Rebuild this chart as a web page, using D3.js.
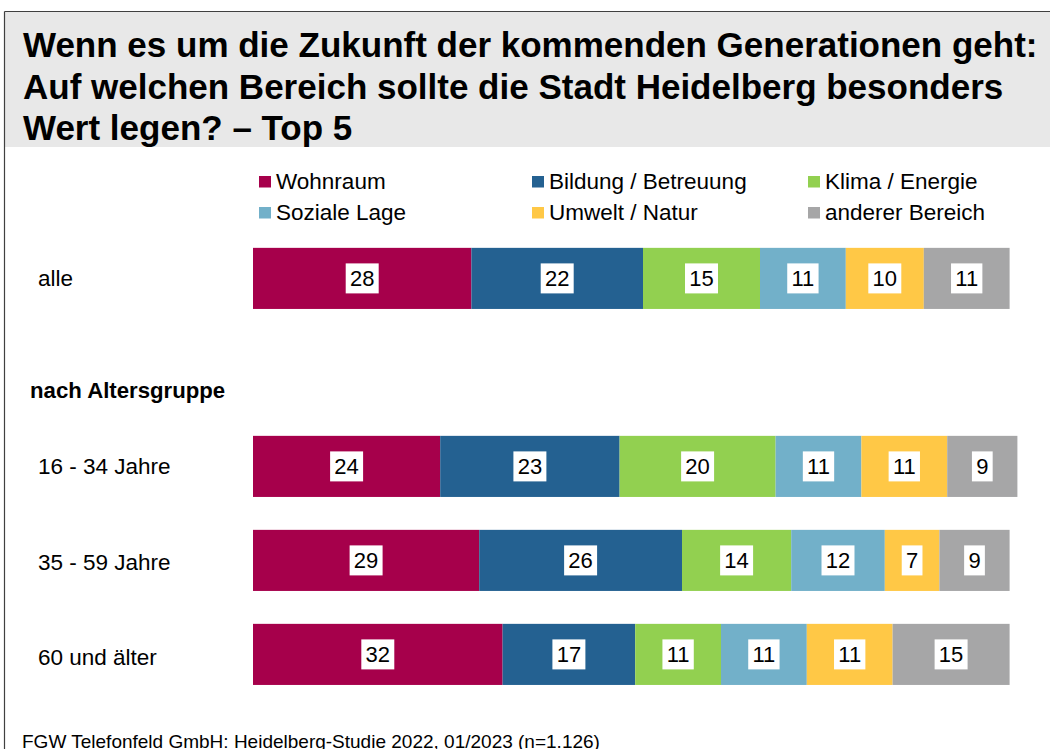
<!DOCTYPE html>
<html>
<head>
<meta charset="utf-8">
<script src="https://cdn.jsdelivr.net/npm/d3@7"></script>
<style>
  html, body { margin: 0; padding: 0; background: #fff; }
  svg { display: block; }
  text { font-family: "Liberation Sans", Arial, sans-serif; }
</style>
</head>
<body>
<svg id="chart" width="1050" height="749"></svg>
<script>
// ---- Data ----
const titleLines = [
  "Wenn es um die Zukunft der kommenden Generationen geht:",
  "Auf welchen Bereich sollte die Stadt Heidelberg besonders",
  "Wert legen? \u2013 Top 5"
];
const rows = ["alle", "", "16 - 34 Jahre", "35 - 59 Jahre", "60 und älter"];
const categories = ["alle", "16 - 34 Jahre", "35 - 59 Jahre", "60 und älter"];
const seriesNames = ["Wohnraum", "Bildung / Betreuung", "Klima / Energie", "Soziale Lage", "Umwelt / Natur", "anderer Bereich"];
const wohnraum = [28, 24, 29, 32];
const bildung  = [22, 23, 26, 17];
const klima    = [15, 20, 14, 11];
const soziale  = [11, 11, 12, 11];
const umwelt   = [10, 11, 7, 11];
const anderer  = [11, 9, 9, 15];
const colors = ["#A6004B", "#246191", "#92D050", "#72B0C9", "#FFC846", "#A6A6A7"];
const groupHeading = "nach Altersgruppe";
const footer = "FGW Telefonfeld GmbH: Heidelberg-Studie 2022, 01/2023 (n=1.126)";

// ---- Build table ----
const seriesValues = [wohnraum, bildung, klima, soziale, umwelt, anderer];
const table = categories.map((c, i) => {
  const o = { cat: c };
  seriesNames.forEach((s, j) => { o[s] = seriesValues[j][i]; });
  return o;
});
const stacked = d3.stack().keys(seriesNames)(table);

const svg = d3.select("#chart");

// ---- Frame & title ----
svg.append("rect").attr("x", 5).attr("y", 12).attr("width", 1045).attr("height", 135).attr("fill", "#E8E8E8");
svg.append("line").attr("x1", 4.5).attr("x2", 1050).attr("y1", 11.5).attr("y2", 11.5).attr("stroke", "#404040").attr("stroke-width", 1.2);
svg.append("line").attr("x1", 4.5).attr("x2", 4.5).attr("y1", 11.5).attr("y2", 749).attr("stroke", "#404040").attr("stroke-width", 1.2);

svg.append("g").selectAll("text").data(titleLines).join("text")
  .attr("x", 23).attr("y", (d, i) => 57 + i * 41.5)
  .attr("font-size", 35).attr("font-weight", "bold").attr("fill", "#000")
  .text(d => d);

// ---- Scales ----
const x = d3.scaleLinear().domain([0, 100]).range([253, 1033]);
const y = d3.scaleBand().domain(rows).range([231.4, 701.4]).paddingInner(0.35).paddingOuter(0.175);
const color = d3.scaleOrdinal().domain(seriesNames).range(colors);

// ---- Legend ----
const legendCols = [259, 532, 808];
const legendRows = [176, 207];
const legend = svg.append("g").selectAll("g").data(seriesNames).join("g")
  .attr("transform", (d, i) => `translate(${legendCols[i % 3]},${legendRows[Math.floor(i / 3)]})`);
legend.append("rect").attr("width", 12).attr("height", 11.5).attr("fill", d => color(d));
legend.append("text").attr("x", 17).attr("y", 12.5).attr("font-size", 22.5).attr("fill", "#000").text(d => d);

// ---- Row labels ----
svg.append("g").selectAll("text").data(categories).join("text")
  .attr("x", 38).attr("y", (d, i) => y(d) + y.bandwidth() / 2 + 8 + (i > 1 ? (i - 1) * 1.2 : 0))
  .attr("font-size", 22.5).attr("fill", "#000").text(d => d);

svg.append("text").attr("x", 30).attr("y", 397.5).attr("font-size", 22.2).attr("font-weight", "bold")
  .attr("fill", "#000").text(groupHeading);

// ---- Bars ----
const layers = svg.append("g").selectAll("g").data(stacked).join("g")
  .attr("fill", d => color(d.key));
layers.selectAll("rect").data(d => d).join("rect")
  .attr("x", d => x(d[0])).attr("width", d => x(d[1]) - x(d[0]))
  .attr("y", d => y(d.data.cat)).attr("height", y.bandwidth());

// ---- Value labels ----
const labels = [];
stacked.forEach(layer => layer.forEach(d => {
  labels.push({ cx: (x(d[0]) + x(d[1])) / 2, cy: y(d.data.cat) + y.bandwidth() / 2, v: d[1] - d[0] });
}));
const lg = svg.append("g").selectAll("g").data(labels).join("g")
  .attr("transform", d => `translate(${d.cx},${d.cy})`);
lg.append("text").attr("text-anchor", "middle").attr("y", 8).attr("font-size", 22)
  .attr("fill", "#000").text(d => d.v);
lg.insert("rect", "text").each(function() {
  const t = d3.select(this.parentNode).select("text").node();
  const w = t.getComputedTextLength() + 8.5;
  d3.select(this).attr("x", -w / 2).attr("y", -15).attr("width", w).attr("height", 30).attr("fill", "#fff");
});

// ---- Footer ----
svg.append("text").attr("x", 22).attr("y", 747.5).attr("font-size", 19).attr("fill", "#000").text(footer);
</script>
</body>
</html>
